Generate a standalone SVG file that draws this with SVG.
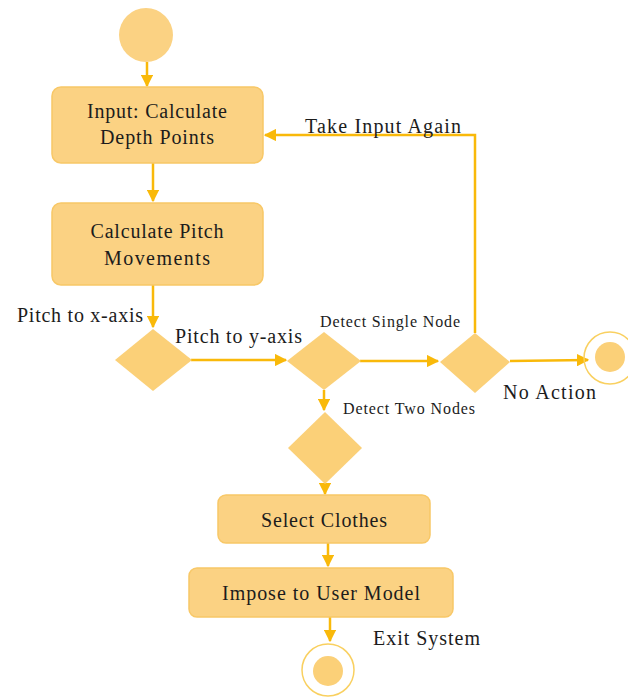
<svg xmlns="http://www.w3.org/2000/svg" width="628" height="700" viewBox="0 0 628 700">
<defs>
<style>
.box{fill:#FBD283;stroke:#F8C867;stroke-width:1.5}
.dia{fill:#FBD078;stroke:none}
text{font-family:'Liberation Serif','Times New Roman',serif;fill:#1c1c1c}
.txt{font-size:20px}
.lbl{font-size:20px}
.sm{font-size:16px}
.edge{fill:none;stroke:#F9B90A;stroke-width:2.5}
.ring{fill:none;stroke:#F9D060;stroke-width:1.5}
</style>
<marker id="ah" viewBox="0 0 10 10" refX="9" refY="5" markerWidth="5" markerHeight="5" orient="auto" markerUnits="strokeWidth">
<path d="M0,0 L10,5 L0,10 z" fill="#F9B90A"/>
</marker>
</defs>
<rect width="628" height="700" fill="#ffffff"/>
<g id="connectors">
<line class="edge" x1="147" y1="62" x2="147" y2="86" marker-end="url(#ah)"/>
<line class="edge" x1="153" y1="163" x2="153" y2="201" marker-end="url(#ah)"/>
<line class="edge" x1="153" y1="285" x2="153" y2="327" marker-end="url(#ah)"/>
<line class="edge" x1="191" y1="360" x2="286" y2="360" marker-end="url(#ah)"/>
<line class="edge" x1="360" y1="361" x2="438" y2="361" marker-end="url(#ah)"/>
<polyline class="edge" points="475,333 475,135 265,135" marker-end="url(#ah)"/>
<line class="edge" x1="510" y1="361" x2="588" y2="360" marker-end="url(#ah)"/>
<line class="edge" x1="324" y1="390" x2="324" y2="410" marker-end="url(#ah)"/>
<line class="edge" x1="325" y1="484" x2="325" y2="494" marker-end="url(#ah)"/>
<line class="edge" x1="328" y1="543" x2="328" y2="566" marker-end="url(#ah)"/>
<line class="edge" x1="330" y1="617" x2="330" y2="641" marker-end="url(#ah)"/>
</g>
<g id="start">
<circle cx="146" cy="35" r="27" fill="#FBD283"/>
</g>
<g id="input">
<rect class="box" x="52" y="87" width="211" height="76" rx="9"/>
<text class="txt" x="157" y="118" text-anchor="middle" textLength="140">Input: Calculate</text>
<text class="txt" x="157" y="144" text-anchor="middle" textLength="114">Depth Points</text>
</g>
<g id="pitch">
<rect class="box" x="52" y="203" width="211" height="82" rx="9"/>
<text class="txt" x="157" y="238" text-anchor="middle" textLength="133">Calculate Pitch</text>
<text class="txt" x="157" y="265" text-anchor="middle" textLength="106">Movements</text>
</g>
<g id="d1">
<polygon class="dia" points="153,329 192,360 153,391 115,360"/>
<text class="lbl" x="17" y="322" textLength="126">Pitch to x-axis</text>
<text class="lbl" x="175" y="343" textLength="127">Pitch to y-axis</text>
</g>
<g id="d2">
<polygon class="dia" points="324,332 361,361 324,390 287,361"/>
<text class="sm" x="320" y="327" textLength="140">Detect Single Node</text>
<text class="sm" x="343" y="414" textLength="132">Detect Two Nodes</text>
</g>
<g id="d3">
<polygon class="dia" points="475,333 510,362 475,393 440,362"/>
<text class="lbl" x="305" y="133" textLength="156">Take Input Again</text>
<text class="lbl" x="503" y="399" textLength="93">No Action</text>
</g>
<g id="end1">
<circle class="ring" cx="610" cy="358" r="26"/>
<circle cx="610" cy="357" r="15" fill="#FBD078"/>
</g>
<g id="d4">
<polygon class="dia" points="325,412 362,448 325,484 288,448"/>
</g>
<g id="select">
<rect class="box" x="218" y="495" width="212" height="48" rx="8"/>
<text class="txt" x="324" y="527" text-anchor="middle" textLength="126">Select Clothes</text>
</g>
<g id="impose">
<rect class="box" x="189" y="568" width="264" height="49" rx="8"/>
<text class="txt" x="321" y="600" text-anchor="middle" textLength="198">Impose to User Model</text>
</g>
<g id="end2">
<circle class="ring" cx="328" cy="670" r="26"/>
<circle cx="328" cy="671" r="15" fill="#FBD078"/>
<text class="lbl" x="373" y="645" textLength="107">Exit System</text>
</g>
</svg>
